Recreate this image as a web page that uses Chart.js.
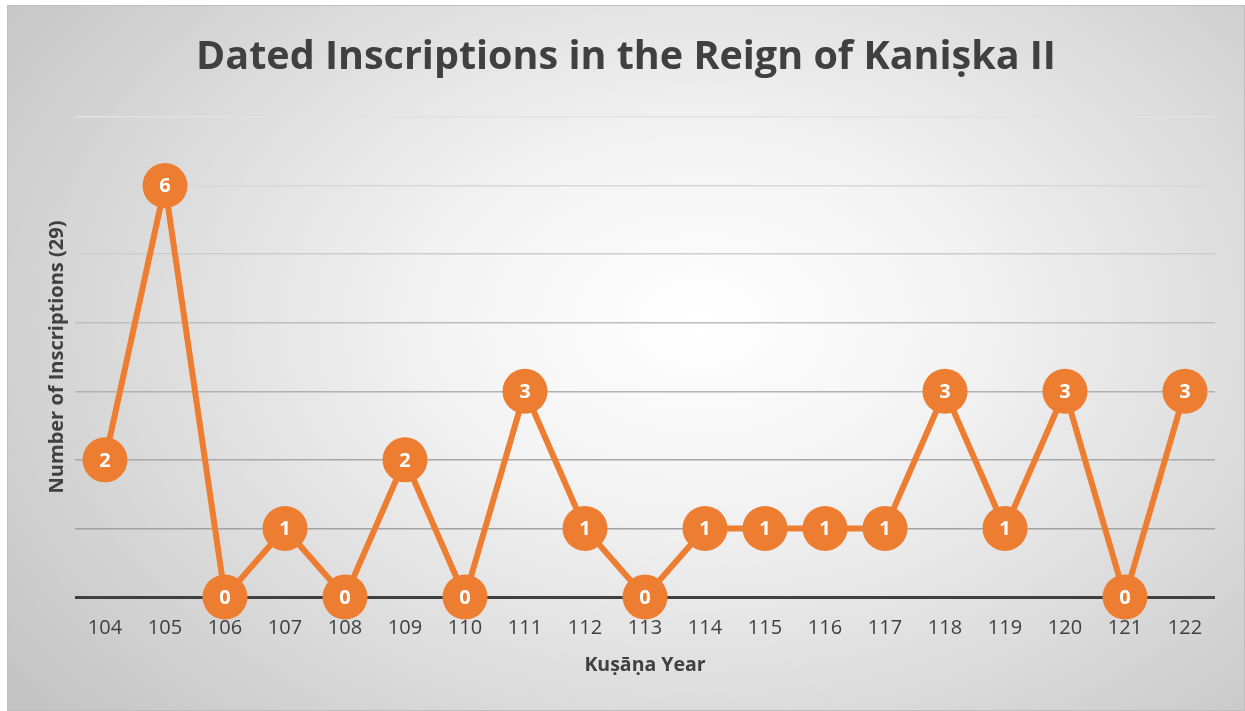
<!DOCTYPE html>
<html lang="en">
<head>
    <meta charset="UTF-8">
    <title>Dated Inscriptions in the Reign of Kaniṣka II</title>
    <script src="https://cdn.jsdelivr.net/npm/chart.js"></script>
    <style>
        html, body { margin: 0; padding: 0; background: #fff; }
        .frame {
            position: absolute; left: 7px; top: 5px;
            width: 1238px; height: 706px; box-sizing: border-box;
            border: 1px solid #bfbfbf;
            background: radial-gradient(ellipse 70% 85% at 56% 45%, #ffffff 0%, #f3f3f3 30%, #c4c4c4 100%);
        }
        canvas { display: block; }
    </style>
</head>
<body>
<div class="frame">
    <canvas id="chart"></canvas>
</div>
<script>
// data
const years = ['104', '105', '106', '107', '108', '109', '110', '111', '112', '113',
               '114', '115', '116', '117', '118', '119', '120', '121', '122'];
const counts = [2, 6, 0, 1, 0, 2, 0, 3, 1, 0, 1, 1, 1, 1, 3, 1, 3, 0, 3];

const titleText = 'Dated Inscriptions in the Reign of Kaniṣka II';
const xTitle = 'Kuṣāṇa Year';
const yTitle = 'Number of Inscriptions (29)';

const orange = '#ED7D31';
const dark = '#404040';
const fontFamily = '"Open Sans", sans-serif';

// gridlines get darker towards the bottom, like the original
const gridShades = ['#404040', '#a2a2a2', '#a8a8a8', '#b2b2b2', '#bdbdbd', '#cdcdcd', '#d8d8d8', '#e2e2e2'];

// white numbers inside the markers
const pointLabels = {
    id: 'pointLabels',
    afterDatasetsDraw(chart) {
        const ctx = chart.ctx;
        const meta = chart.getDatasetMeta(0);
        ctx.save();
        ctx.fillStyle = '#ffffff';
        ctx.font = 'bold 20px ' + fontFamily;
        ctx.textAlign = 'center';
        ctx.textBaseline = 'middle';
        meta.data.forEach((pt, i) => {
            ctx.fillText(String(counts[i]), pt.x, pt.y + 1);
        });
        ctx.restore();
    }
};

new Chart(document.getElementById('chart'), {
    type: 'line',
    data: {
        labels: years,
        datasets: [{
            data: counts,
            borderColor: orange,
            backgroundColor: orange,
            borderWidth: 6,
            pointRadius: 22.5,
            pointHoverRadius: 22.5,
            pointBorderWidth: 0,
            pointBackgroundColor: orange,
            tension: 0,
            clip: false
        }]
    },
    options: {
        responsive: true,
        maintainAspectRatio: false,
        animation: false,
        events: [],
        plugins: {
            legend: { display: false },
            tooltip: { enabled: false },
            title: {
                display: true,
                text: titleText,
                color: dark,
                font: { family: fontFamily, size: 39.5, weight: 'bold', lineHeight: 1.2 },
                padding: { top: 28, bottom: 35.6 }
            }
        },
        scales: {
            x: {
                offset: true,
                grid: { display: false, drawTicks: false },
                border: { display: false },
                ticks: {
                    color: dark,
                    padding: 19,
                    font: { family: fontFamily, size: 20 }
                },
                title: {
                    display: true,
                    text: xTitle,
                    color: dark,
                    font: { family: fontFamily, size: 19.5, weight: 'bold', lineHeight: 1.2 },
                    padding: { top: 0, bottom: 33 }
                },
                afterFit(scale) { scale.height = 113; }
            },
            y: {
                min: 0,
                max: 7,
                ticks: { display: false, stepSize: 1 },
                border: { display: false },
                grid: {
                    drawTicks: false,
                    color: c => gridShades[c.tick.value] || '#c6c6c6',
                    lineWidth: c => c.tick.value === 0 ? 3 : 1.5
                },
                title: {
                    display: true,
                    text: yTitle,
                    color: dark,
                    font: { family: fontFamily, size: 20, weight: 'bold', lineHeight: 1.2 },
                    padding: { top: 37, bottom: 0 }
                },
                afterFit(scale) { scale.width = 67; }
            },
            // empty axis on the right only to keep the plot narrower than the title box
            yRight: {
                position: 'right',
                min: 0,
                max: 7,
                ticks: { display: false },
                grid: { display: false, drawTicks: false },
                border: { display: false },
                afterFit(scale) { scale.width = 29; }
            }
        }
    },
    plugins: [pointLabels]
});
</script>
</body>
</html>
